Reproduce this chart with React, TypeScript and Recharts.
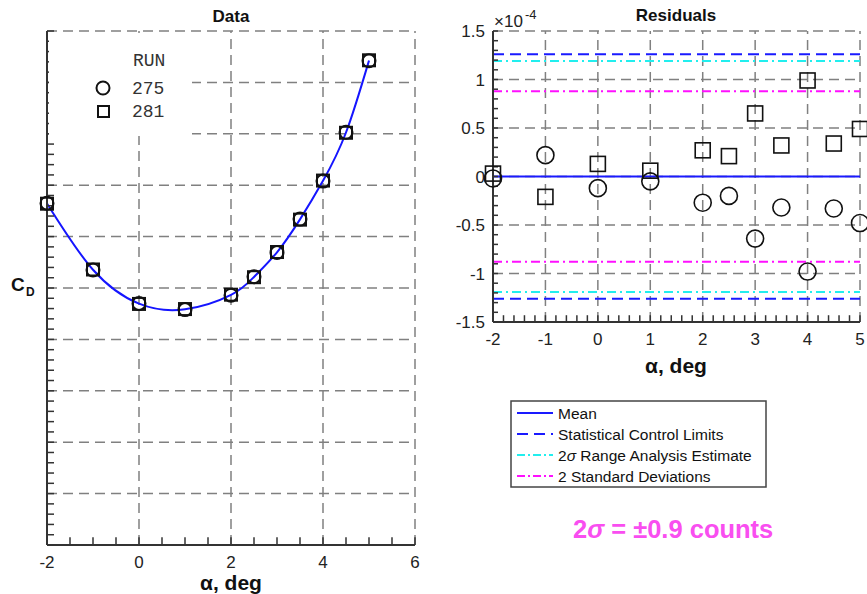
import React from "react";
import {
  ComposedChart,
  Line,
  Scatter,
  XAxis,
  YAxis,
  ReferenceLine,
} from "recharts";

// angle of attack, deg
const alpha = [-2, -1, 0, 1, 2, 2.5, 3, 3.5, 4, 4.5, 5];

// drag coefficient, plotted in grid units (axis values are not shown)
const cd275 = [6.65, 5.35, 4.7, 4.58, 4.86, 5.22, 5.69, 6.34, 7.08, 8.03, 9.42];
const cd281 = [6.64, 5.36, 4.69, 4.59, 4.87, 5.21, 5.7, 6.33, 7.09, 8.02, 9.43];
const cdFit = [6.645, 5.355, 4.695, 4.585, 4.865, 5.215, 5.695, 6.335, 7.085, 8.025, 9.425];

// residuals, x 1e-4
const res275 = [-0.02, 0.22, -0.12, -0.05, -0.27, -0.2, -0.64, -0.32, -0.98, -0.33, -0.48];
const res281 = [0.03, -0.21, 0.13, 0.06, 0.27, 0.21, 0.65, 0.32, 0.99, 0.34, 0.49];

// limit lines, x 1e-4
const meanLine = 0;
const controlLimit = 1.26;
const rangeEstimate = 1.19;
const twoStd = 0.88;

// tick labels
const dataXMajor = [-2, 0, 2, 4, 6];
const dataYMajor = [0, 1, 2, 3, 4, 5, 6, 7, 8, 9, 10];
const resXMajor = [-2, -1, 0, 1, 2, 3, 4, 5];
const resYMajor = [-1.5, -1, -0.5, 0, 0.5, 1, 1.5];

const range = (a: number, b: number, step: number) => {
  const out: number[] = [];
  const n = Math.round((b - a) / step);
  for (let i = 0; i <= n; i++) out.push(Math.round((a + i * step) * 1000) / 1000);
  return out;
};

const dataRows = alpha.map((a, i) => ({ alpha: a, r275: cd275[i], r281: cd281[i], fit: cdFit[i] }));
const resRows = alpha.map((a, i) => ({ alpha: a, r275: res275[i], r281: res281[i] }));

const SANS = "'Liberation Sans', Arial, Helvetica, sans-serif";
const AXIS = "#333";
const GRID = "#808080";

const isMajor = (list: number[], v: number) => list.some((m) => Math.abs(m - v) < 1e-6);
const majorOnly = (list: number[]) => (v: number) => (isMajor(list, v) ? String(v) : "");

const tickFont = { fontSize: 17, fill: "#222", fontFamily: SANS };
const tickLine = { stroke: AXIS, strokeWidth: 1.5 };
const axisLine = { stroke: AXIS, strokeWidth: 2 };

const circle = (r: number, w: number) => (p: any) =>
  <circle cx={p.cx} cy={p.cy} r={r} fill="none" stroke="#111" strokeWidth={w} />;
const square = (s: number, w: number) => (p: any) =>
  <rect x={p.cx - s / 2} y={p.cy - s / 2} width={s} height={s} fill="none" stroke="#111" strokeWidth={w} />;

// inward ticks on the bottom axis, drawn as short segments through the scales
const xTickMarks = (ticks: number[], y0: number, len: number) =>
  ticks.map((v) => (
    <ReferenceLine
      key={"t" + v}
      segment={[{ x: v, y: y0 }, { x: v, y: y0 + len }]}
      stroke={AXIS}
      strokeWidth={1.5}
      ifOverflow="visible"
    />
  ));

function DataChart() {
  return (
    <ComposedChart
      width={430}
      height={594}
      data={dataRows}
      margin={{ top: 31, right: 15, bottom: 19, left: 17 }}
    >
      {dataXMajor.slice(1).map((v) => (
        <ReferenceLine key={"x" + v} x={v} stroke={GRID} strokeWidth={1.5} strokeDasharray="10 6" />
      ))}
      {dataYMajor.slice(1).map((v) => (
        <ReferenceLine key={"y" + v} y={v} stroke={GRID} strokeWidth={1.5} strokeDasharray="10 6" />
      ))}
      {xTickMarks(range(-2, 6, 0.5), 0, 0.15)}
      <XAxis
        dataKey="alpha"
        type="number"
        domain={[-2, 6]}
        ticks={range(-2, 6, 0.5)}
        interval={0}
        height={30}
        tickSize={0}
        tickMargin={11}
        tick={tickFont}
        tickLine={false}
        tickFormatter={majorOnly(dataXMajor)}
        axisLine={axisLine}
      />
      <YAxis
        type="number"
        domain={[0, 10]}
        ticks={range(0, 10, 0.2)}
        interval={0}
        width={30}
        tickSize={-7}
        tickMargin={15}
        tick={tickFont}
        tickLine={tickLine}
        tickFormatter={() => ""}
        axisLine={axisLine}
      />
      <Line
        dataKey="fit"
        type="natural"
        stroke="#1515ff"
        strokeWidth={2}
        dot={false}
        isAnimationActive={false}
      />
      <Scatter dataKey="r275" shape={circle(6.5, 2)} isAnimationActive={false} />
      <Scatter dataKey="r281" shape={square(12, 2)} isAnimationActive={false} />
    </ComposedChart>
  );
}

function ResidualChart() {
  return (
    <ComposedChart
      width={427}
      height={380}
      data={resRows}
      margin={{ top: 31, right: 7, bottom: 28, left: 13 }}
    >
      {resXMajor.slice(1).map((v) => (
        <ReferenceLine key={"x" + v} x={v} stroke={GRID} strokeWidth={1.5} strokeDasharray="10 6" />
      ))}
      {resYMajor.slice(1).map((v) => (
        <ReferenceLine key={"y" + v} y={v} stroke={GRID} strokeWidth={1.5} strokeDasharray="10 6" />
      ))}
      {xTickMarks(range(-2, 5, 0.2), -1.5, 0.07)}
      <XAxis
        dataKey="alpha"
        type="number"
        domain={[-2, 5]}
        ticks={range(-2, 5, 0.2)}
        interval={0}
        height={30}
        tickSize={0}
        tickMargin={11}
        tick={tickFont}
        tickLine={false}
        tickFormatter={majorOnly(resXMajor)}
        axisLine={axisLine}
      />
      <YAxis
        type="number"
        domain={[-1.5, 1.5]}
        ticks={range(-1.5, 1.5, 0.1)}
        interval={0}
        width={40}
        tickSize={-5}
        tickMargin={13}
        tick={tickFont}
        tickLine={tickLine}
        tickFormatter={majorOnly(resYMajor)}
        axisLine={axisLine}
      />
      <ReferenceLine y={twoStd} stroke="#ff10ff" strokeWidth={2} strokeDasharray="9 4 2 4" />
      <ReferenceLine y={-twoStd} stroke="#ff10ff" strokeWidth={2} strokeDasharray="9 4 2 4" />
      <ReferenceLine y={rangeEstimate} stroke="#22eeee" strokeWidth={2} strokeDasharray="9 4 2 4" />
      <ReferenceLine y={-rangeEstimate} stroke="#22eeee" strokeWidth={2} strokeDasharray="9 4 2 4" />
      <ReferenceLine y={controlLimit} stroke="#1a1aff" strokeWidth={2} strokeDasharray="11 6" />
      <ReferenceLine y={-controlLimit} stroke="#1a1aff" strokeWidth={2} strokeDasharray="11 6" />
      <ReferenceLine y={meanLine} stroke="#1a1aff" strokeWidth={2} />
      <Scatter dataKey="r275" shape={circle(8.5, 1.6)} isAnimationActive={false} />
      <Scatter dataKey="r281" shape={square(15, 1.6)} isAnimationActive={false} />
    </ComposedChart>
  );
}

const legendRows = [
  { label: "Mean", color: "#1a1aff", dash: undefined as string | undefined },
  { label: "Statistical Control Limits", color: "#1a1aff", dash: "11 6" },
  { label: "Range Analysis Estimate", color: "#22eeee", dash: "8 3 2 3" },
  { label: "2 Standard Deviations", color: "#ff10ff", dash: "8 3 2 3" },
];

function Overlay() {
  return (
    <svg width={867} height={594} style={{ position: "absolute", left: 0, top: 0, pointerEvents: "none" }}>
      <g fontFamily={SANS} fill="#111" fontWeight="bold">
        <text x={231} y={22} textAnchor="middle" fontSize={17}>Data</text>
        <text x={676} y={21} textAnchor="middle" fontSize={17}>Residuals</text>
        <text x={231} y={590} textAnchor="middle" fontSize={21}>α, deg</text>
        <text x={676} y={373} textAnchor="middle" fontSize={21}>α, deg</text>
        <text x={11} y={291} fontSize={19}>C</text>
        <text x={26} y={296} fontSize={12}>D</text>
      </g>
      <g fontFamily={SANS} fill="#222">
        <text x={494} y={27} fontSize={17}>×10</text>
        <text x={525} y={19} fontSize={13}>-4</text>
      </g>

      {/* run legend on the data panel */}
      <rect x={49} y={33} width={143} height={103} fill="#fff" />
      <g fontFamily="'Liberation Mono', 'DejaVu Sans Mono', monospace" fontSize={18} fill="#333">
        <text x={133} y={66}>RUN</text>
        <text x={132} y={94}>275</text>
        <text x={132} y={117}>281</text>
      </g>
      <circle cx={103} cy={88} r={6.5} fill="none" stroke="#111" strokeWidth={2} />
      <rect x={98} y={106} width={11} height={11} fill="none" stroke="#111" strokeWidth={2} />

      {/* line legend */}
      <rect x={511} y={401} width={255} height={86} fill="#fff" stroke="#444" strokeWidth={1.5} />
      {legendRows.map((r, i) => {
        const y = 413 + i * 21;
        return (
          <g key={r.label}>
            <line x1={517} x2={553} y1={y} y2={y} stroke={r.color} strokeWidth={2} strokeDasharray={r.dash} />
            <text x={558} y={y + 6} fontFamily={SANS} fontSize={15.5} fill="#111">
              {i === 2 ? (
                <>
                  2<tspan fontStyle="italic">σ</tspan> {r.label}
                </>
              ) : (
                r.label
              )}
            </text>
          </g>
        );
      })}

      <text x={573} y={538} fontFamily={SANS} fontSize={25.5} fontWeight="bold" fill="#f94ef0">
        2<tspan fontStyle="italic">σ</tspan> = ±0.9 counts
      </text>
    </svg>
  );
}

export default function App() {
  return (
    <div style={{ position: "absolute", left: 0, top: 0, width: 867, height: 594, background: "#fff" }}>
      <div style={{ position: "absolute", left: 0, top: 0 }}>
        <DataChart />
      </div>
      <div style={{ position: "absolute", left: 440, top: 0 }}>
        <ResidualChart />
      </div>
      <Overlay />
    </div>
  );
}
